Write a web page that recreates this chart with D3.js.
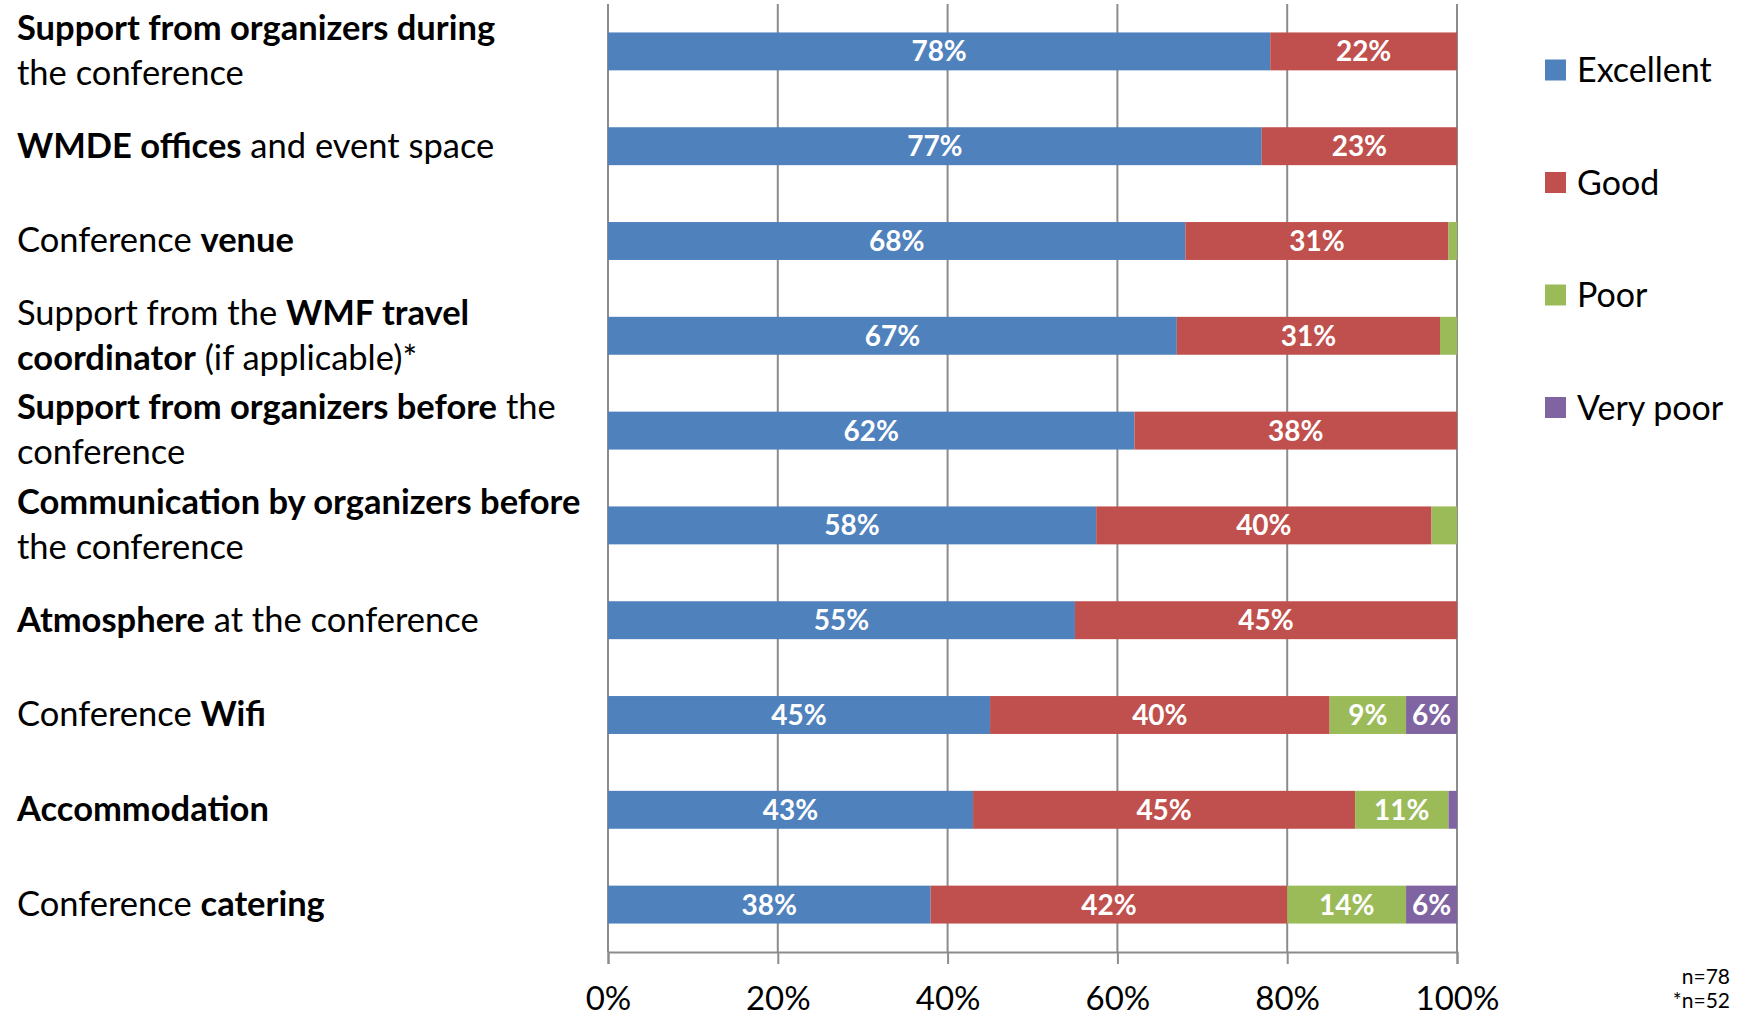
<!DOCTYPE html>
<html>
<head>
<meta charset="utf-8">
<script src="https://cdn.jsdelivr.net/npm/d3@7"></script>
<style>
  body { margin: 0; background: #fff; }
  svg { display: block; font-family: Lato, "Open Sans", sans-serif; }
</style>
</head>
<body>
<div id="container"></div>
<script>
const width = 1741;
const height = 1016;

// ** marks bold text, | splits lines
const categories = [
    "**Support from organizers during**|the conference",
    "**WMDE offices** and event space",
    "Conference **venue**",
    "Support from the **WMF travel**|**coordinator** (if applicable)*",
    "**Support from organizers before** the|conference",
    "**Communication by organizers before**|the conference",
    "**Atmosphere** at the conference",
    "Conference **Wifi**",
    "**Accommodation**",
    "Conference **catering**"
];
const excellent = [78, 77, 68, 67, 62, 57.5, 55, 45, 43, 38];
const good      = [22, 23, 31, 31, 38, 39.5, 45, 40, 45, 42];
const poor      = [0, 0, 1, 2, 0, 3, 0, 9, 11, 14];
const veryPoor  = [0, 0, 0, 0, 0, 0, 0, 6, 1, 6];

const seriesNames = ["Excellent", "Good", "Poor", "Very poor"];
const seriesColors = ["#4f81bd", "#c0504d", "#9bbb59", "#8064a2"];
const xTicks = [0, 20, 40, 60, 80, 100];
const notes = ["n=78", "*n=52"];

const rows = categories.map((c, i) => ({
    cat: c,
    "Excellent": excellent[i],
    "Good": good[i],
    "Poor": poor[i],
    "Very poor": veryPoor[i]
}));

const stacked = d3.stack().keys(seriesNames)(rows);

const plot = { left: 608, right: 1457, top: 4, bottom: 952 };

const x = d3.scaleLinear().domain([0, 100]).range([plot.left, plot.right]);
const y = d3.scaleBand().domain(categories).range([plot.top, plot.bottom])
    .paddingInner(0.6).paddingOuter(0.3);
const color = d3.scaleOrdinal().domain(seriesNames).range(seriesColors);

const svg = d3.select("#container").append("svg")
    .attr("width", width)
    .attr("height", height);

// vertical gridlines
svg.append("g")
    .selectAll("line")
    .data(xTicks)
    .join("line")
    .attr("x1", d => x(d)).attr("x2", d => x(d))
    .attr("y1", plot.top).attr("y2", plot.bottom)
    .attr("stroke", "#8c8c8c")
    .attr("stroke-width", 2);

// bars
const layer = svg.append("g")
    .selectAll("g")
    .data(stacked)
    .join("g")
    .attr("fill", d => color(d.key));

layer.selectAll("rect")
    .data(d => d)
    .join("rect")
    .attr("x", d => x(d[0]))
    .attr("width", d => x(d[1]) - x(d[0]))
    .attr("y", d => y(d.data.cat))
    .attr("height", y.bandwidth());

// value labels
layer.selectAll("text")
    .data(d => d.filter(s => s[1] - s[0] >= 5))
    .join("text")
    .attr("x", d => (x(d[0]) + x(d[1])) / 2)
    .attr("y", d => y(d.data.cat) + y.bandwidth() / 2 + 10)
    .attr("text-anchor", "middle")
    .attr("fill", "#fff")
    .attr("font-weight", "bold")
    .attr("font-size", 28)
    .text(d => Math.round(d[1] - d[0]) + "%");

// bottom axis
const xaxis = d3.axisBottom(x)
    .tickValues(xTicks)
    .tickSize(12)
    .tickFormat(d => d + "%");

const ax = svg.append("g")
    .attr("transform", "translate(0," + plot.bottom + ")")
    .call(xaxis);
ax.select(".domain").attr("stroke", "#8c8c8c").attr("stroke-width", 2);
ax.selectAll(".tick line").attr("stroke", "#8c8c8c").attr("stroke-width", 2);
ax.selectAll(".tick text")
    .attr("y", 58)
    .attr("dy", 0)
    .attr("fill", "#000")
    .attr("font-family", "Lato, sans-serif")
    .attr("font-size", 33);

// category labels
const labelSize = 34.5;
const lineGap = 45;
const catLabels = svg.append("g")
    .selectAll("text")
    .data(categories)
    .join("text")
    .attr("font-size", labelSize)
    .attr("fill", "#000");

catLabels.each(function (c) {
    const lines = c.split("|");
    const mid = y(c) + y.bandwidth() / 2;
    const t = d3.select(this);
    lines.forEach((ln, li) => {
        const base = mid - (lines.length - 1) * lineGap / 2 + li * lineGap + labelSize * 0.33;
        ln.split("**").forEach((part, pi) => {
            if (!part) return;
            const ts = t.append("tspan")
                .attr("font-weight", pi % 2 ? "bold" : "normal")
                .text(part);
            if (pi === 0 || (pi === 1 && ln.startsWith("**"))) {
                ts.attr("x", 17).attr("y", base);
            }
        });
    });
});

// legend
const legend = svg.append("g")
    .selectAll("g")
    .data(seriesNames)
    .join("g")
    .attr("transform", (d, i) => "translate(1545," + (70 + i * 112.5) + ")");

legend.append("rect")
    .attr("x", 0).attr("y", -10.5)
    .attr("width", 21).attr("height", 21)
    .attr("fill", d => color(d));

legend.append("text")
    .attr("x", 32)
    .attr("y", 12)
    .attr("font-size", 34)
    .attr("fill", "#000")
    .text(d => d);

// sample size notes
svg.append("g")
    .selectAll("text")
    .data(notes)
    .join("text")
    .attr("x", 1730)
    .attr("y", (d, i) => 984 + i * 24)
    .attr("text-anchor", "end")
    .attr("font-size", 21)
    .attr("fill", "#000")
    .text(d => d);
</script>
</body>
</html>
